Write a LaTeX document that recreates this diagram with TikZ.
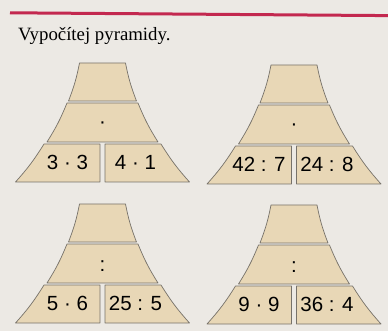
\documentclass[tikz,border=0pt]{standalone}
\usepackage{fontspec}
\setmainfont{Liberation Serif}
\newfontfamily\numfont{Liberation Sans}
\definecolor{paper}{HTML}{ECE9E4}
\definecolor{sand}{HTML}{E8D7B6}
\definecolor{edge}{HTML}{77726A}
\definecolor{stripe}{HTML}{C3284F}

\begin{document}
\begin{tikzpicture}[x=1pt, y=-1pt,
  block/.style={fill=sand, draw=edge, line width=0.7pt, line join=round},
  num/.style={font=\numfont\fontsize{20.5}{21}\selectfont, inner sep=0pt},
  title/.style={font=\fontsize{18.8}{19}\selectfont, inner sep=0pt}]

%--------------------
% Page and heading
%--------------------
\fill[paper] (0,0) rectangle (388,331);
\useasboundingbox (0,0) rectangle (388,331);

\coordinate (lineL) at (10,12.8);
\coordinate (lineR) at (388,15.6);
\draw[stripe, line width=3pt] (lineL) -- (lineR);

\node[title, anchor=base west] (head) at (18,40.5) {Vypočítej pyramidy.};

%--------------------
% Four pyramids: centre x, top y, three texts
%--------------------
\foreach \cx/\cy/\L/\M/\R/\n in {
    102.5/63/{3 · 3}/·/{4 · 1}/a,
    294/65/{42 : 7}/·/{24 : 8}/b,
    102.5/204/{5 · 6}/:/{25 : 5}/c,
    294/205/{9 · 9}/:/{36 : 4}/d}{
  \begin{scope}[shift={(\cx,\cy)}]
    % top stone
    \draw[block] (-23,0) -- (23,0) to[bend right=5] (34,38)
                 -- (-34,38) to[bend right=5] cycle;
    % middle stone
    \draw[block] (-35.5,40) -- (35.5,40) to[bend right=5] (55.5,79)
                 -- (-55.5,79) to[bend right=5] cycle;
    % bottom row, left and right stones
    \draw[block] (-58.5,81) -- (-2.5,81) -- (-2.5,119)
                 -- (-87,119) to[bend right=5] cycle;
    \draw[block] (2.5,81) -- (58.5,81) to[bend right=5] (87,119)
                 -- (2.5,119) -- cycle;
    % texts
    \node[num] (m\n) at (0,62) {\M};
    \node[num] (l\n) at (-35,99.5) {\L};
    \node[num] (r\n) at (33,99.5) {\R};
  \end{scope}
}

\end{tikzpicture}
\end{document}
